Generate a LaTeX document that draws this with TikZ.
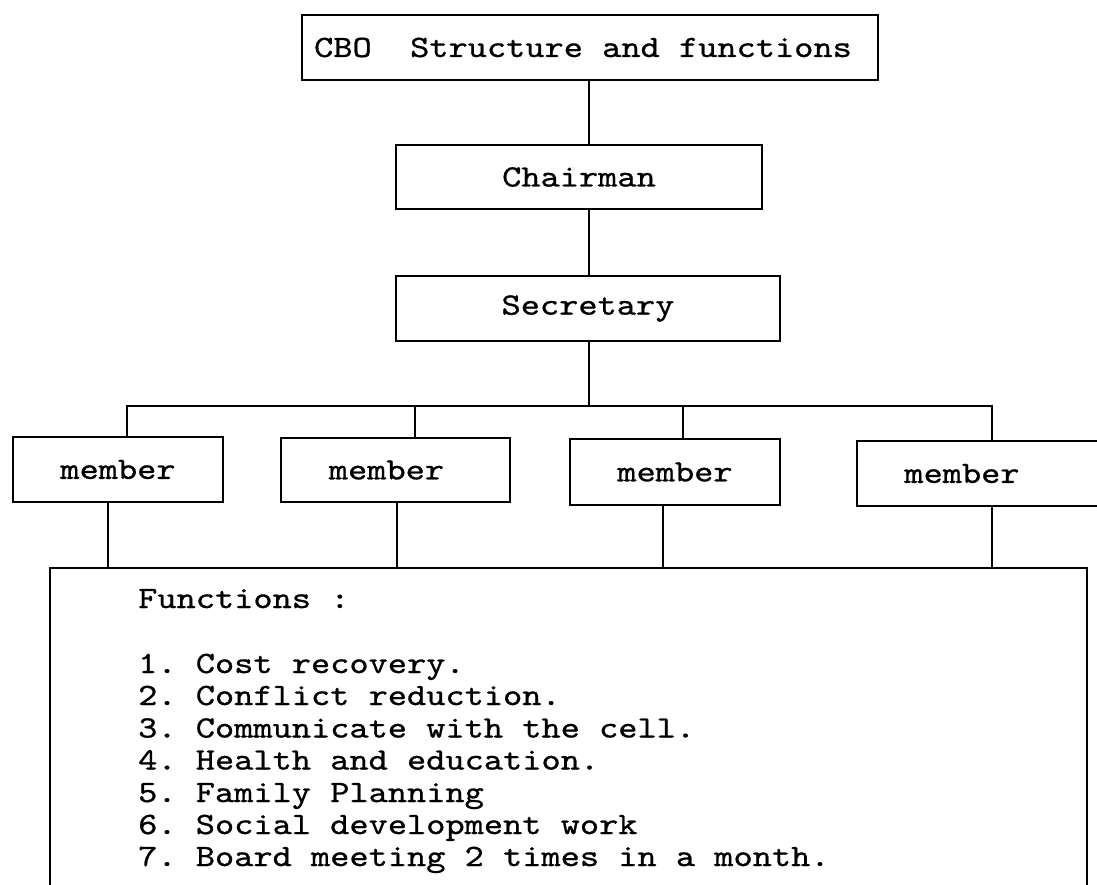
\documentclass[tikz,border=0pt]{standalone}
\usepackage{fontspec}
\setmonofont{lmmono10-regular.otf}[FakeStretch=1.18, FakeBold=0.8]
\newcommand\tfont{\ttfamily\fontsize{31}{32}\selectfont}
\tikzset{
  box/.style={draw, line width=1.6pt, inner sep=0pt, font=\tfont},
  conn/.style={line width=1.6pt},
  txt/.style={inner sep=0pt, font=\tfont, anchor=base west}
}
\begin{document}
\begin{tikzpicture}[x=1pt, y=-1pt]
\clip (0,0) rectangle (1097,884);
\fill[white] (0,0) rectangle (1097,884);

% boxes
\node[box, minimum width=576, minimum height=65] (title) at (590,47.5) {CBO\ \ Structure and functions\hspace*{14pt}};
\node[box, minimum width=366, minimum height=64] (chair) at (579,177) {Chairman};
\node[box, minimum width=384, minimum height=65] (sec) at (588,308.5) {Secretary};
\node[box, minimum width=210, minimum height=65] (m1) at (118,469.5) {member};
\node[box, minimum width=229, minimum height=64] (m2) at (395.5,470) {member\hspace*{18pt}};
\node[box, minimum width=210, minimum height=66] (m3) at (675,472) {member};
\node[box, minimum width=253, minimum height=65] (m4) at (983.5,473.5) {};
\node[inner sep=0pt, font=\tfont] (m4t) at (962,473.5) {member};
\node[box, minimum width=1037, minimum height=332] (fbox) at (568.5,734) {};

% function text
\node[txt] (f0) at (138,608) {Functions :};
\node[txt] (f1) at (138,673) {1. Cost recovery.};
\node[txt] (f2) at (138,705) {2. Conflict reduction.};
\node[txt] (f3) at (138,737.5) {3. Communicate with the cell.};
\node[txt] (f4) at (138,769.5) {4. Health and education.};
\node[txt] (f5) at (138,802) {5. Family Planning};
\node[txt] (f6) at (138,834) {6. Social development work};
\node[txt] (f7) at (138,866) {7. Board meeting 2 times in a month.};

% helper coordinates
\coordinate (vx) at (589,0);
\coordinate (b0) at (589,406);
\coordinate (b1) at (127,406);
\coordinate (b2) at (415,406);
\coordinate (b3) at (683,406);
\coordinate (b4) at (992,406);
\coordinate (d1) at (108,0);
\coordinate (d2) at (397,0);
\coordinate (d3) at (663,0);
\coordinate (d4) at (992,0);

% connectors
\draw[conn] (title.south -| vx) -- (chair.north -| vx);
\draw[conn] (chair.south -| vx) -- (sec.north -| vx);
\draw[conn] (sec.south -| vx) -- (b0);
\draw[conn] (m1.north -| b1) -- (b1) -- (b4) -- (m4.north -| b4);
\draw[conn] (b2) -- (m2.north -| b2);
\draw[conn] (b3) -- (m3.north -| b3);
\draw[conn] (m1.south -| d1) -- (fbox.north -| d1);
\draw[conn] (m2.south -| d2) -- (fbox.north -| d2);
\draw[conn] (m3.south -| d3) -- (fbox.north -| d3);
\draw[conn] (m4.south -| d4) -- (fbox.north -| d4);
\end{tikzpicture}
\end{document}
